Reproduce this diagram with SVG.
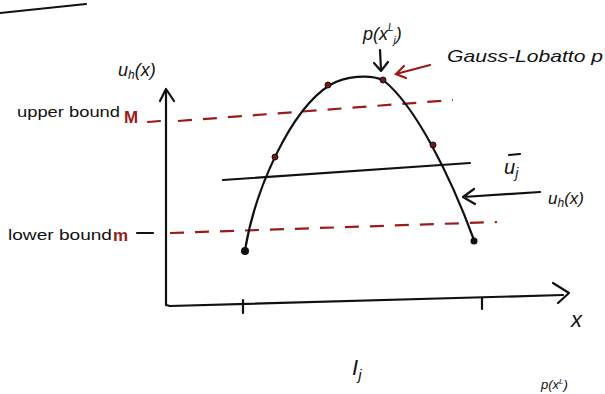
<svg xmlns="http://www.w3.org/2000/svg" width="605" height="394" viewBox="0 0 605 394">
<style>
.ink{fill:none;stroke:#111;stroke-width:2.2;stroke-linecap:round;stroke-linejoin:round}
.red{fill:none;stroke:#9b1b1b;stroke-width:2.2;stroke-linecap:round}
.dash{fill:none;stroke:#9b1b1b;stroke-width:2.2;stroke-dasharray:14 11}
.t{font-family:"Liberation Sans",Arial,sans-serif;fill:#111}
.tr{font-family:"Liberation Sans",Arial,sans-serif;fill:#9b1b1b}
.dot{fill:#7a1414;stroke:#111;stroke-width:1}
</style>
<rect width="605" height="394" fill="#fff"/>
<path class="ink" d="M0,13 L86,4" stroke-width="2.6"/>
<g id="axes">
<path class="ink" d="M166,90 L166,305 L170,306 L563,295"/>
<path class="ink" d="M160,101 L166,89 L174,101"/>
<path class="ink" d="M553,283 L569,293 L558,303"/>
<path class="ink" d="M243,300 L243,313 M482,298 L482,309" stroke-width="1.8"/>
<text class="t" x="118" y="76" font-size="18" font-style="italic">u<tspan font-size="12" dy="3">h</tspan><tspan dy="-3">(x)</tspan></text>
<text class="t" x="571" y="327" font-size="22" font-style="italic">x</text>
<text class="t" x="352" y="375" font-size="22" font-style="italic">I<tspan font-size="15" dy="5">j</tspan></text>
</g>
<g id="upper-bound">
<text class="t" x="17" y="117" font-size="15" textLength="103" lengthAdjust="spacingAndGlyphs">upper bound</text>
<text class="tr" x="124" y="123" font-size="17" font-weight="bold">M</text>
<path class="red" d="M148,122 L160,121"/>
<path class="dash" d="M178,121 L453,100"/>
</g>
<g id="lower-bound">
<text class="t" x="8" y="240" font-size="15" textLength="104" lengthAdjust="spacingAndGlyphs">lower bound</text>
<text class="tr" x="113" y="241" font-size="17" font-weight="bold">m</text>
<path class="ink" d="M137,233 L153,233" stroke-width="1.8"/>
<path class="dash" d="M170,233 L497,222"/>
</g>
<g id="mean">
<path class="ink" d="M223,180 L470,163"/>
<text class="t" x="504" y="174" font-size="20" font-style="italic">u<tspan font-size="14" dy="4">j</tspan></text>
<path class="ink" d="M509,155 L520,154" stroke-width="1.6"/>
</g>
<g id="curve">
<path class="ink" d="M245,250 C255,190 290,110 330,85 C345,76 370,74 383,80 C415,105 450,175 474,240"/>
<circle cx="245" cy="251" r="4" fill="#111"/>
<circle class="dot" cx="275" cy="157" r="3"/>
<circle class="dot" cx="328" cy="85" r="3"/>
<circle class="dot" cx="383" cy="80" r="3"/>
<circle class="dot" cx="433" cy="145" r="3"/>
<circle cx="474" cy="241" r="3.5" fill="#111"/>
</g>
<g id="labels">
<text class="t" x="363" y="40" font-size="18" font-style="italic">p(x<tspan font-size="10" dy="-9">L</tspan><tspan font-size="10" dy="13">j</tspan><tspan dy="-4">)</tspan></text>
<text class="t" x="447" y="62" font-size="17" font-style="italic" textLength="156" lengthAdjust="spacingAndGlyphs">Gauss-Lobatto p</text>
<text class="t" x="548" y="204" font-size="17" font-style="italic">u<tspan font-size="12" dy="3">h</tspan><tspan dy="-3">(x)</tspan></text>
<text class="t" x="541" y="389" font-size="13" font-style="italic">p(x<tspan font-size="8" dy="-5">L</tspan><tspan dy="5">)</tspan></text>
</g>
<g id="connectors">
<path class="ink" d="M380,50 L381,70 M374,63 L381,71 L388,62"/>
<path class="red" d="M430,65 L396,74 M404,66 L396,74 L406,78"/>
<path class="ink" d="M540,192 L463,197 M474,189 L463,197 L475,204"/>
</g>
</svg>
